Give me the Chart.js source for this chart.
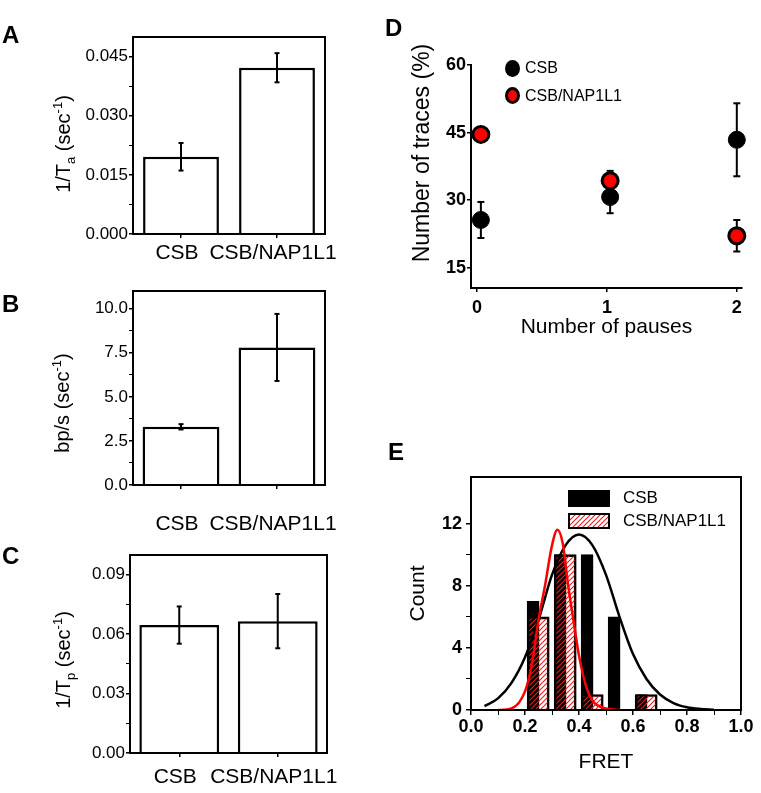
<!DOCTYPE html>
<html>
<head>
<meta charset="utf-8">
<script src="https://cdn.jsdelivr.net/npm/chart.js@4.4.1/dist/chart.umd.min.js"></script>
<style>
  body { margin: 0; background: #fff; font-family: "Liberation Sans", Arial, sans-serif; }
  #page { position: relative; width: 761px; height: 793px; overflow: hidden; }
  canvas, .lbl, .key, .ytitle { position: absolute; }
  .letter { position: absolute; font-weight: bold; font-size: 24px; line-height: 24px; }
  .lbl { font-size: 16px; line-height: 20px; white-space: nowrap; }
  .ytitle { width: 240px; height: 26px; line-height: 26px; text-align: center; white-space: nowrap;
            transform: rotate(-90deg); font-size: 20px; }
  .ytitle sub, .ytitle sup { font-size: 13px; line-height: 0; }
</style>
</head>
<body>
<div id="page">
  <canvas id="chartA" width="340" height="270" style="left:0;top:0"></canvas>
  <canvas id="chartB" width="340" height="262" style="left:0;top:270px"></canvas>
  <canvas id="chartC" width="340" height="273" style="left:0;top:520px"></canvas>
  <canvas id="chartD" width="381" height="340" style="left:380px;top:0"></canvas>
  <canvas id="chartE" width="381" height="413" style="left:380px;top:380px"></canvas>

  <div class="letter" style="left:2px;top:23px">A</div>
  <div class="letter" style="left:2px;top:292px">B</div>
  <div class="letter" style="left:2px;top:544px">C</div>
  <div class="letter" style="left:385px;top:16px">D</div>
  <div class="letter" style="left:388px;top:440px">E</div>

  <!-- y axis titles -->
  <div class="ytitle" style="left:-57px;top:131px">1/T<sub>a</sub> (sec<sup>-1</sup>)</div>
  <div class="ytitle" style="left:-58px;top:390px">bp/s (sec<sup>-1</sup>)</div>
  <div class="ytitle" style="left:-57px;top:647px">1/T<sub>p</sub> (sec<sup>-1</sup>)</div>
  <div class="ytitle" style="left:301px;top:140px;font-size:23px">Number of traces (%)</div>

  <!-- legend D -->
  <div class="key" style="left:505px;top:60px;width:15px;height:17px;border-radius:50%;background:#000"></div>
  <div class="lbl" style="left:525px;top:58px">CSB</div>
  <div class="key" style="left:505px;top:87px;width:15px;height:17px;border-radius:50%;background:#ff0000;border:3px solid #000;box-sizing:border-box"></div>
  <div class="lbl" style="left:525px;top:86px">CSB/NAP1L1</div>

  <!-- legend E -->
  <div class="key" style="left:568px;top:490px;width:42px;height:17px;background:#000"></div>
  <div class="lbl" style="left:623px;top:488px;font-size:17px">CSB</div>
  <div class="key" id="hatchKey" style="left:568px;top:513px;width:42px;height:16px;border:2px solid #000;box-sizing:border-box"></div>
  <div class="lbl" style="left:623px;top:511px;font-size:17px">CSB/NAP1L1</div>
</div>

<script>
// panels A-C
const groups = ["CSB", "CSB/NAP1L1"];
const rateA = [0.0196, 0.0422];
const rateAErr = [0.0035, 0.0037];
const ticksA = [0, 0.015, 0.03, 0.045];
const speedB = [3.3, 7.8];
const speedBErr = [0.15, 1.9];
const ticksB = [0, 2.5, 5, 7.5, 10];
const rateC = [0.0646, 0.0666];
const rateCErr = [0.0094, 0.0137];
const ticksC = [0, 0.03, 0.06, 0.09];

// panel D
const pauses = [0.03, 1.025, 2];
const tracesCsb = [25.6, 30.7, 43.4];
const tracesCsbErr = [4.0, 3.6, 8.1];
const tracesNap = [44.6, 34.3, 22.1];
const tracesNapErr = [1.0, 2.2, 3.5];
const pauseTicks = [0, 1, 2];
const traceTicks = [15, 30, 45, 60];

// panel E
const fretCsb = [0.23, 0.33, 0.43, 0.53, 0.63];
const countCsb = [7, 10, 10, 6, 1];
const fretNap = [0.25, 0.35, 0.45, 0.65];
const countNap = [6, 10, 1, 1];
const fitCsbX = [0.05, 0.1, 0.15, 0.2, 0.25, 0.3, 0.35, 0.4, 0.45, 0.5, 0.55, 0.6, 0.65, 0.7, 0.75, 0.8, 0.85, 0.9];
const fitCsbY = [0.25, 0.75, 1.75, 3.4, 5.8, 8.7, 10.6, 11.3, 10.6, 8.7, 6.0, 3.6, 2.0, 1.0, 0.45, 0.18, 0.07, 0.02];
const fitNapX = [0.1, 0.15, 0.2, 0.225, 0.25, 0.275, 0.3, 0.32, 0.34, 0.36, 0.38, 0.4, 0.425, 0.45, 0.5, 0.55];
const fitNapY = [0.0, 0.1, 1.2, 2.9, 5.8, 8.1, 10.6, 11.6, 10.7, 8.0, 5.7, 3.5, 1.6, 0.6, 0.1, 0.0];

Chart.defaults.font.family = '"Liberation Sans", Arial, sans-serif';
Chart.defaults.color = "#000";
Chart.defaults.animation = false;

const frame = {
  id: "frame",
  afterDraw(chart) {
    const a = chart.chartArea, ctx = chart.ctx;
    ctx.save();
    ctx.strokeStyle = "#000";
    ctx.lineWidth = 2;
    ctx.strokeRect(a.left, a.top, a.right - a.left, a.bottom - a.top);
    ctx.restore();
  }
};

const isMult = (v, step) => Math.abs(v / step - Math.round(v / step)) < 1e-6;

// error bar as a short line with caps, null breaks between points
function errLine(xs, ys, es) {
  const out = [];
  xs.forEach((x, i) => {
    out.push({ x: x, y: ys[i] - es[i] }, { x: x, y: ys[i] + es[i] }, { x: x, y: null });
  });
  return out;
}

// major ticks plus one minor tick halfway between
function withMinor(majors) {
  const step = majors[1] - majors[0];
  const out = [];
  majors.forEach(v => { out.push({ value: v }, { value: v + step / 2 }); });
  return out;
}

function barPanel(id, vals, errs, o) {
  new Chart(document.getElementById(id), {
    type: "bar",
    data: {
      labels: groups,
      datasets: [
        { type: "line", data: errLine(groups, vals, errs), borderColor: "#000", borderWidth: 2,
          pointStyle: "line", pointRadius: 2.5, pointBorderWidth: 2, pointBorderColor: "#000", order: 0 },
        { data: vals, backgroundColor: "#fff", borderColor: "#000", borderWidth: 2.5,
          barPercentage: o.bar, categoryPercentage: 1, order: 1 }
      ]
    },
    options: {
      responsive: false,
      layout: { padding: { top: o.top, right: o.right, left: 0, bottom: 0 } },
      plugins: { legend: { display: false }, tooltip: { enabled: false } },
      scales: {
        x: {
          grid: { offset: false, drawOnChartArea: false, tickLength: 4, color: "#000", lineWidth: 1.5 },
          border: { color: "#000", width: 2 },
          ticks: { font: { size: 21 }, padding: o.xpad, autoSkip: false, maxRotation: 0, minRotation: 0,
                   labelOffset: -4 },
          afterFit: s => { s.height = o.xh; s.paddingLeft = 0; s.paddingRight = 0; }
        },
        y: {
          min: 0, max: o.max,
          afterBuildTicks: s => { s.ticks = withMinor(o.ticks).filter(t => t.value <= o.max); },
          ticks: { padding: 1, font: { size: 17 },
                   callback: v => o.ticks.some(t => Math.abs(t - v) < 1e-9) ? v.toFixed(o.dec) : "" },
          grid: { drawOnChartArea: false, tickLength: 4, color: "#000",
                  lineWidth: c => o.ticks.some(t => Math.abs(t - c.tick.value) < 1e-9) ? 1.5 : 1 },
          border: { color: "#000", width: 2 },
          afterFit: s => { s.width = o.yw; s.paddingTop = 0; s.paddingBottom = 0; }
        }
      }
    },
    plugins: [frame]
  });
}

barPanel("chartA", rateA, rateAErr, { max: 0.05, ticks: ticksA, dec: 3,
  top: 37, right: 15, xh: 36, yw: 133, xpad: 3, bar: 0.79 });
barPanel("chartB", speedB, speedBErr, { max: 11, ticks: ticksB, dec: 1,
  top: 21, right: 15, xh: 47, yw: 133, xpad: 23, bar: 0.8 });
barPanel("chartC", rateC, rateCErr, { max: 0.1, ticks: ticksC, dec: 2,
  top: 35, right: 13, xh: 40, yw: 130, xpad: 8, bar: 0.81 });

// D: scatter with error bars
new Chart(document.getElementById("chartD"), {
  type: "scatter",
  data: {
    datasets: [
      { type: "line", data: errLine(pauses, tracesCsb, tracesCsbErr), borderColor: "#000", borderWidth: 2,
        pointStyle: "line", pointRadius: 3.5, pointBorderWidth: 2, pointBorderColor: "#000", clip: false, order: 4 },
      { label: "CSB", data: pauses.map((x, i) => ({ x: x, y: tracesCsb[i] })), pointRadius: 8.5,
        pointBackgroundColor: "#000", pointBorderColor: "#000", pointBorderWidth: 1, clip: false, order: 3 },
      { type: "line", data: errLine(pauses, tracesNap, tracesNapErr), borderColor: "#000", borderWidth: 2,
        pointStyle: "line", pointRadius: 3.5, pointBorderWidth: 2, pointBorderColor: "#000", clip: false, order: 2 },
      { label: "CSB/NAP1L1", data: pauses.map((x, i) => ({ x: x, y: tracesNap[i] })), pointRadius: 8,
        pointBackgroundColor: "#ff0000", pointBorderColor: "#000", pointBorderWidth: 3, clip: false, order: 1 }
    ]
  },
  options: {
    responsive: false,
    layout: { padding: { top: 65, right: 19, left: 0, bottom: 0 } },
    plugins: { legend: { display: false }, tooltip: { enabled: false } },
    scales: {
      x: {
        type: "linear", min: -0.046, max: 2.04,
        afterBuildTicks: s => { s.ticks = pauseTicks.map(v => ({ value: v })); },
        ticks: { font: { size: 18, weight: "bold" }, padding: 5 },
        grid: { drawOnChartArea: false, tickLength: 4, color: "#000", lineWidth: 1.5 },
        border: { color: "#000", width: 2 },
        title: { display: true, text: "Number of pauses", font: { size: 21 }, padding: { top: 0, bottom: 0 } },
        afterFit: s => { s.height = 52; s.paddingLeft = 0; s.paddingRight = 0; }
      },
      y: {
        min: 10.5, max: 60,
        afterBuildTicks: s => { s.ticks = traceTicks.map(v => ({ value: v })); },
        ticks: { font: { size: 18, weight: "bold" }, padding: 1 },
        grid: { drawOnChartArea: false, tickLength: 4, color: "#000", lineWidth: 1.5 },
        border: { color: "#000", width: 2 },
        afterFit: s => { s.width = 91; s.paddingTop = 0; s.paddingBottom = 0; }
      }
    }
  }
});

// E: histogram with gaussian fits
const hatchTile = document.createElement("canvas");
hatchTile.width = hatchTile.height = 5;
const hg = hatchTile.getContext("2d");
hg.strokeStyle = "#ee1c1c";
hg.lineWidth = 1.1;
hg.beginPath();
hg.moveTo(0, 5); hg.lineTo(5, 0);
hg.moveTo(-1, 1); hg.lineTo(1, -1);
hg.moveTo(4, 6); hg.lineTo(6, 4);
hg.stroke();
document.getElementById("hatchKey").style.backgroundImage = "url(" + hatchTile.toDataURL() + ")";

const ctxE = document.getElementById("chartE").getContext("2d");
const hatch = ctxE.createPattern(hatchTile, "repeat");

new Chart(ctxE, {
  type: "bar",
  data: {
    datasets: [
      { label: "CSB", data: fretCsb.map((x, i) => ({ x: x, y: countCsb[i] })), backgroundColor: "#000",
        borderColor: "#000", borderWidth: 1, barThickness: 12, grouped: false, order: 4 },
      { label: "CSB/NAP1L1", data: fretNap.map((x, i) => ({ x: x, y: countNap[i] })), backgroundColor: hatch,
        borderColor: "#000", borderWidth: 2, barThickness: 21.5, grouped: false, order: 3 },
      { type: "line", data: fitCsbX.map((x, i) => ({ x: x, y: fitCsbY[i] })), borderColor: "#000", borderWidth: 2.5,
        pointRadius: 0, cubicInterpolationMode: "monotone", order: 2 },
      { type: "line", data: fitNapX.map((x, i) => ({ x: x, y: fitNapY[i] })), borderColor: "#ff0000", borderWidth: 2.5,
        pointRadius: 0, cubicInterpolationMode: "monotone", order: 1 }
    ]
  },
  options: {
    responsive: false,
    layout: { padding: { top: 97, right: 20, left: 0, bottom: 0 } },
    plugins: { legend: { display: false }, tooltip: { enabled: false } },
    scales: {
      x: {
        type: "linear", min: 0, max: 1, offset: false,
        ticks: { stepSize: 0.1, padding: 1, font: { size: 18, weight: "bold" }, autoSkip: false,
                 maxRotation: 0, minRotation: 0,
                 callback: v => isMult(v, 0.2) ? v.toFixed(1) : "" },
        grid: { offset: false, drawOnChartArea: false, tickLength: 5, color: "#000",
                lineWidth: c => isMult(c.tick.value, 0.2) ? 1.5 : 1 },
        border: { color: "#000", width: 2 },
        title: { display: true, text: "FRET", font: { size: 21 }, padding: { top: 0, bottom: 18 } },
        afterFit: s => { s.height = 83; s.paddingLeft = 0; s.paddingRight = 0; }
      },
      y: {
        min: 0, max: 15,
        afterBuildTicks: s => { s.ticks = s.ticks.filter(t => isMult(t.value, 2)); },
        ticks: { stepSize: 2, padding: 4, font: { size: 18, weight: "bold" },
                 callback: v => isMult(v, 4) ? v : "" },
        grid: { drawOnChartArea: false, tickLength: 5, color: "#000",
                lineWidth: c => isMult(c.tick.value, 4) ? 1.5 : 1 },
        border: { color: "#000", width: 2 },
        title: { display: true, text: "Count", font: { size: 21 }, padding: { top: 26, bottom: 0 } },
        afterFit: s => { s.width = 91; s.paddingTop = 0; s.paddingBottom = 0; }
      }
    }
  },
  plugins: [frame]
});
</script>
</body>
</html>
